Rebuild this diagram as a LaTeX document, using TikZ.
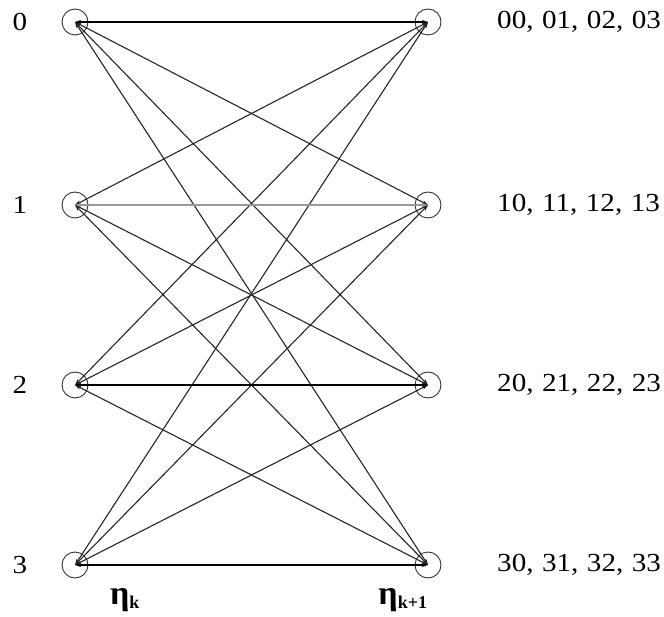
\documentclass[tikz,border=0pt]{standalone}
\usepackage{fontspec}
\setmainfont{Liberation Serif}
\newfontfamily\widefont[FakeStretch=1.12]{Liberation Serif}
\usetikzlibrary{arrows.meta}
\begin{document}
\begin{tikzpicture}[x=1pt,y=-1pt,
  circ/.style={circle,draw=black!80,line width=0.9pt,minimum size=26pt,inner sep=0pt},
  edge/.style={draw=black!85,line width=1.1pt,{Stealth[length=6pt,width=4pt]}-{Stealth[length=6pt,width=4pt]}},
  hedge/.style={draw=black,line width=1.6pt,{Stealth[length=6pt,width=4pt]}-{Stealth[length=6pt,width=4pt]}},
  gedge/.style={draw=black!40,line width=1.6pt,{Stealth[length=6pt,width=4pt]}-{Stealth[length=6pt,width=4pt]}},
  lab/.style={font=\widefont\fontsize{26}{28}\selectfont,inner sep=0pt},
  rlab/.style={font=\widefont\fontsize{26}{28}\selectfont,inner sep=0pt,anchor=west}]
\useasboundingbox (0,0) rectangle (664,617);
\foreach \i/\y in {0/22,1/205,2/385,3/565}{
  \node[circ] (L\i) at (75,\y) {};
  \node[circ] (R\i) at (428,\y) {};
  \node[lab] (n\i) at (20,\y) {\i};
}
\newcommand\sep{,\hspace{8.5pt}}
\node[rlab] (t0) at (497,22) {00\sep 01\sep 02\sep 03};
\node[rlab] (t1) at (497,205) {10\sep 11\sep 12\sep 13};
\node[rlab] (t2) at (497,385) {20\sep 21\sep 22\sep 23};
\node[rlab] (t3) at (497,565) {30\sep 31\sep 32\sep 33};
\foreach \i in {0,1,2,3}{
  \foreach \j in {0,1,2,3}{
    \ifnum\i=\j\else
      \draw[edge] (L\i.center) -- (R\j.center);
    \fi
  }
}
\draw[hedge] (L0.center) -- (R0.center);
\draw[gedge] (L1.center) -- (R1.center);
\draw[hedge] (L2.center) -- (R2.center);
\draw[hedge] (L3.center) -- (R3.center);
\node[font=\fontsize{34}{36}\selectfont\bfseries,inner sep=0pt] (ek) at (125,600) {η\textsubscript{\fontsize{18}{20}\selectfont k}};
\node[font=\fontsize{34}{36}\selectfont\bfseries,inner sep=0pt] (ek1) at (403,600) {η\textsubscript{\fontsize{18}{20}\selectfont k+1}};
\end{tikzpicture}
\end{document}
